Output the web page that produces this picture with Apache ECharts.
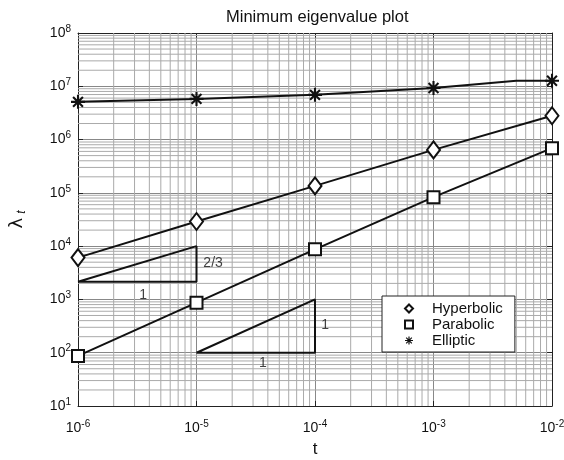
<!DOCTYPE html>
<html>
<head>
<meta charset="utf-8">
<script src="https://cdn.jsdelivr.net/npm/echarts@6/dist/echarts.min.js"></script>
<style>
html, body { margin: 0; padding: 0; background: #fff; }
#chart { width: 564px; height: 460px; }
</style>
</head>
<body>
<div id="chart"></div>
<script>
// values
var tValues = [1e-6, 1e-5, 1e-4, 1e-3, 1e-2];
var hyperbolic = [6.1e3, 2.9e4, 1.35e5, 6.4e5, 2.8e6];
var parabolic = [87, 870, 8.7e3, 8.3e4, 6.9e5];
var elliptic = [5.1e6, 5.8e6, 6.9e6, 9.3e6, 1.27e7];
// elliptic line bends (no marker) just before the last point
var ellipticBend = [5e-3, 1.27e7];

// slope triangles
var slopeTri1 = [[1e-6, 2154], [1e-5, 2154], [1e-5, 1e4], [1e-6, 2154]];
var slopeTri2 = [[1e-5, 100], [1e-4, 100], [1e-4, 1000], [1e-5, 100]];
var slopeLabels = [
	[1.38e-5, 4.8e3, '2/3'],
	[3.55e-6, 1.2e3, '1'],
	[1.22e-4, 330, '1'],
	[3.64e-5, 64, '1']
];

var xMin = 1e-6, xMax = 1e-2;
var yMin = 1e1, yMax = 1e8;

var asterisk = 'path://M0 8.5L20 8.5L20 11.5L0 11.5Z' +
	'M8.5 0L11.5 0L11.5 20L8.5 20Z' +
	'M4 1.9L18.1 16L16 18.1L1.9 4Z' +
	'M16 1.9L18.1 4L4 18.1L1.9 16Z';

function minorValues(lo, hi) {
	var out = [];
	for (var e = Math.round(Math.log10(lo)); e < Math.round(Math.log10(hi)); e++) {
		for (var k = 2; k <= 9; k++) {
			out.push(k * Math.pow(10, e));
		}
	}
	return out;
}

// [value, 0] = vertical line at x, [value, 1] = horizontal line at y
var minorLines = [];
minorValues(xMin, xMax).forEach(function(v) { minorLines.push([v, 0]); });
minorValues(yMin, yMax).forEach(function(v) { minorLines.push([v, 1]); });

function powLabel(v) {
	var e = Math.round(Math.log10(v));
	return '{b|10}{s|' + e + '}';
}

var labelRich = {
	b: { fontSize: 14, color: '#111', fontFamily: 'Liberation Sans' },
	s: { fontSize: 10, color: '#111', fontFamily: 'Liberation Sans', verticalAlign: 'top', padding: [0, 0, 8, 0] }
};

var ellipticData = [];
for (var i = 0; i < tValues.length; i++) {
	if (i === tValues.length - 1) {
		ellipticData.push({ value: ellipticBend, symbol: 'none' });
	}
	ellipticData.push([tValues[i], elliptic[i]]);
}

function pairs(ys) {
	return tValues.map(function(t, i) { return [t, ys[i]]; });
}

var frameLine = { show: true, lineStyle: { color: '#222', width: 1 } };
var tickStyle = { show: true, inside: true, length: 5, lineStyle: { color: '#222' } };

var dom = document.getElementById('chart');
var myChart = echarts.init(dom);

var option = {
	animation: false,
	backgroundColor: '#fff',
	title: {
		text: 'Minimum eigenvalue plot',
		left: 221,
		top: 4,
		textStyle: { fontSize: 16.5, fontWeight: 'normal', color: '#111', fontFamily: 'Liberation Sans' }
	},
	legend: {
		left: 382,
		top: 296,
		orient: 'vertical',
		itemWidth: 8,
		itemHeight: 8,
		itemGap: 1,
		padding: [5, 12, 4, 22],
		borderColor: '#222',
		borderWidth: 1,
		backgroundColor: '#fff',
		textStyle: { fontSize: 15, color: '#111', fontFamily: 'Liberation Sans', padding: [0, 0, 0, 14] },
		data: [
			{ name: 'Hyperbolic', icon: 'emptyDiamond', itemStyle: { color: '#111', borderWidth: 2 } },
			{ name: 'Parabolic', icon: 'emptyRect', itemStyle: { color: '#111', borderWidth: 1.5 } },
			{ name: 'Elliptic', icon: asterisk, itemStyle: { color: '#111' } }
		]
	},
	grid: {
		left: 78,
		right: 12,
		top: 33,
		bottom: 54,
		outerBoundsMode: 'none'
	},
	xAxis: [
		{
			type: 'log',
			min: xMin,
			max: xMax,
			splitNumber: 4,
			name: 't',
			nameLocation: 'middle',
			nameGap: 35,
			nameTextStyle: { fontSize: 17, color: '#111', fontFamily: 'Liberation Sans' },
			axisLine: frameLine,
			axisTick: tickStyle,
			axisLabel: { margin: 13, formatter: powLabel, rich: labelRich },
			splitLine: { show: true, lineStyle: { color: '#888', width: 1 } }
		},
		{
			type: 'log',
			min: xMin,
			max: xMax,
			splitNumber: 4,
			position: 'top',
			axisLine: frameLine,
			axisTick: tickStyle,
			axisLabel: { show: false },
			splitLine: { show: false }
		}
	],
	yAxis: [
		{
			type: 'log',
			min: yMin,
			max: yMax,
			splitNumber: 7,
			name: '{l|λ}{t|t}',
			nameLocation: 'middle',
			nameGap: 50,
			nameRotate: 90,
			nameTextStyle: {
				rich: {
					l: { fontSize: 18, color: '#111', fontFamily: 'DejaVu Sans' },
					t: { fontSize: 12, color: '#111', fontStyle: 'italic', fontFamily: 'Liberation Sans', verticalAlign: 'bottom', padding: [10, 0, 0, 4] }
				}
			},
			axisLine: frameLine,
			axisTick: tickStyle,
			axisLabel: { margin: 7, formatter: powLabel, rich: labelRich },
			splitLine: { show: true, lineStyle: { color: '#888', width: 1 } }
		},
		{
			type: 'log',
			min: yMin,
			max: yMax,
			splitNumber: 7,
			position: 'right',
			axisLine: frameLine,
			axisTick: tickStyle,
			axisLabel: { show: false },
			splitLine: { show: false }
		}
	],
	series: [
		{
			name: 'minor grid',
			type: 'custom',
			silent: true,
			z: 1,
			data: minorLines,
			renderItem: function(params, api) {
				var v = api.value(0);
				var a, b;
				if (api.value(1) === 0) {
					a = api.coord([v, yMin]);
					b = api.coord([v, yMax]);
				} else {
					a = api.coord([xMin, v]);
					b = api.coord([xMax, v]);
				}
				return {
					type: 'line',
					shape: { x1: a[0], y1: a[1], x2: b[0], y2: b[1] },
					style: { stroke: '#aaa', lineWidth: 1 }
				};
			}
		},
		{
			name: 'Hyperbolic',
			type: 'line',
			data: pairs(hyperbolic),
			symbol: 'emptyDiamond',
			symbolSize: [13, 17],
			z: 5,
			lineStyle: { color: '#111', width: 2 },
			itemStyle: { color: '#111', borderWidth: 1.5 }
		},
		{
			name: 'Parabolic',
			type: 'line',
			data: pairs(parabolic),
			symbol: 'emptyRect',
			symbolSize: 12,
			z: 5,
			lineStyle: { color: '#111', width: 2 },
			itemStyle: { color: '#111', borderWidth: 1.5 }
		},
		{
			name: 'Elliptic',
			type: 'line',
			data: ellipticData,
			symbol: asterisk,
			symbolSize: 14,
			z: 5,
			lineStyle: { color: '#111', width: 2 },
			itemStyle: { color: '#111' }
		},
		{
			name: 'slope 2/3',
			type: 'line',
			data: slopeTri1,
			symbol: 'none',
			z: 4,
			lineStyle: { color: '#111', width: 2 }
		},
		{
			name: 'slope 1',
			type: 'line',
			data: slopeTri2,
			symbol: 'none',
			z: 4,
			lineStyle: { color: '#111', width: 2 }
		},
		{
			name: 'slope labels',
			type: 'scatter',
			data: slopeLabels,
			symbolSize: 0,
			z: 6,
			label: {
				show: true,
				position: 'inside',
				formatter: function(p) { return p.value[2]; },
				fontSize: 14,
				color: '#111',
				fontFamily: 'Liberation Sans'
			}
		}
	]
};

myChart.setOption(option, true);
</script>
</body>
</html>
